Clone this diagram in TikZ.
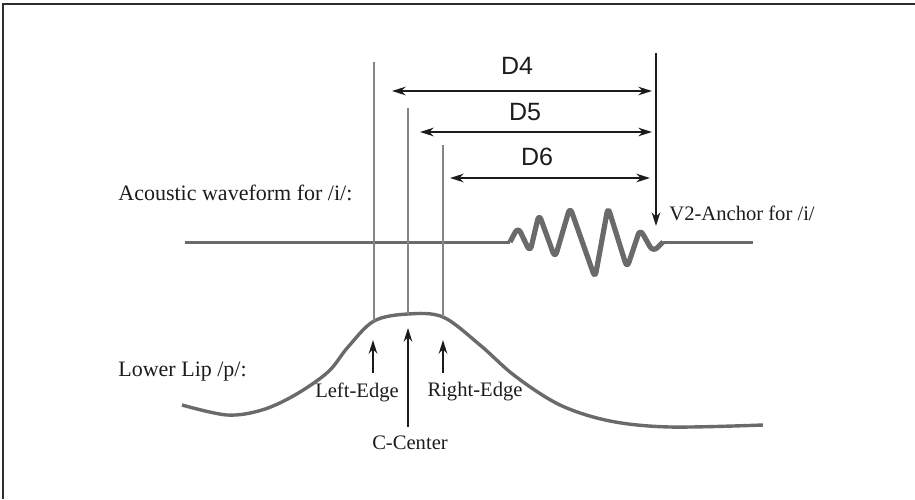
\documentclass[tikz,border=0pt]{standalone}
\usepackage{fontspec}
\setmainfont{Liberation Serif}
\newfontfamily\dimsans{Liberation Sans}
\usetikzlibrary{arrows.meta, positioning}
\definecolor{frameBd}{HTML}{2E2E2E}
\definecolor{waveClr}{HTML}{6A6A6A}
\definecolor{guideClr}{HTML}{858585}
\definecolor{inkClr}{HTML}{1C1C1C}
\newcommand{\tl}{\fontsize{11}{13}\selectfont}
\newcommand{\ml}{\fontsize{10.3}{12}\selectfont}
\newcommand{\dl}{\dimsans\fontsize{12.5}{14}\selectfont}

\begin{document}
\begin{tikzpicture}[
  x=0.5pt, y=-0.5pt,
  >={Stealth[length=2.4mm, width=1.5mm]},
  guide/.style={draw=guideClr, line width=0.8pt},
  span/.style={<->, draw=inkClr, line width=1.1pt},
  pointer/.style={->, draw=inkClr, line width=1.1pt},
  wave/.style={draw=waveClr, line width=1.5pt},
  burst/.style={draw=waveClr, line width=2.6pt, rounded corners=3pt, line join=round},
  lip/.style={draw=waveClr, line width=1.7pt},
  txt/.style={inner sep=0pt, text=inkClr},
]
\useasboundingbox (0,0) rectangle (915,499);

% ---------- frame ----------
\draw[frameBd, line width=1pt] (2.5,499) -- (2.5,3.5) -- (915,3.5);

% ---------- row titles ----------
\node[txt, anchor=west, font=\tl] (acoustic) at (118,193) {Acoustic waveform for /i/:};
\node[txt, anchor=west, font=\tl] (lowerlip) at (118,372) {Lower Lip /p/:};

% ---------- acoustic waveform ----------
\coordinate (waveL) at (185,242);
\coordinate (burstL) at (510,242);
\coordinate (burstR) at (663,242);
\coordinate (waveR) at (753,242);
\draw[wave] (waveL) -- (burstL);
\draw[wave] (burstR) -- (waveR);
\draw[burst] (burstL) -- (518,227) -- (530,252) -- (539,214) -- (555,258)
  -- (570,207) -- (595,278) -- (608,207) -- (627,268) -- (640,229)
  -- (653,252) -- (burstR);

% ---------- lower lip trajectory ----------
\coordinate (leFoot) at (374,321);
\coordinate (ccFoot) at (408,314);
\coordinate (reFoot) at (443,317);
\draw[lip] plot[smooth, tension=0.55] coordinates {
  (182,405) (227,415) (262,410) (295,395) (328,372) (348,347) (leFoot) (ccFoot)
  (reFoot) (480,345) (515,376) (560,405) (610,421) (670,427) (763,425)};

% ---------- landmark guides ----------
\coordinate (leTop) at (374,62);
\coordinate (ccTop) at (408,108);
\coordinate (reTop) at (443,145);
\draw[guide] (leTop) -- (leFoot);
\draw[guide] (ccTop) -- (ccFoot);
\draw[guide] (reTop) -- (reFoot);

% ---------- V2 anchor ----------
\coordinate (v2Top) at (656,53);
\coordinate (v2Tip) at (656,226);
\draw[pointer] (v2Top) -- (v2Tip);
\node[txt, anchor=west, font=\ml] (anchorlab) at (669,213) {V2-Anchor for /i/};

% ---------- interval spans ----------
\coordinate (d4L) at (392,91);  \coordinate (d4R) at (652,91);
\coordinate (d5L) at (420,132); \coordinate (d5R) at (652,132);
\coordinate (d6L) at (450,178); \coordinate (d6R) at (650,178);
\draw[span] (d4L) -- (d4R);
\draw[span] (d5L) -- (d5R);
\draw[span] (d6L) -- (d6R);
\node[txt, font=\dl] (d4) at (517,66) {D4};
\node[txt, font=\dl] (d5) at (525,112) {D5};
\node[txt, font=\dl] (d6) at (537,157) {D6};

% ---------- landmark pointers ----------
\coordinate (leTip) at (373,340);  \coordinate (leTail) at (373,373);
\coordinate (ccTip) at (408,328);  \coordinate (ccTail) at (408,427);
\coordinate (reTip) at (443,340);  \coordinate (reTail) at (443,373);
\draw[pointer] (leTail) -- (leTip);
\draw[pointer] (ccTail) -- (ccTip);
\draw[pointer] (reTail) -- (reTip);
\node[txt, font=\ml] (leftedge) at (357,392) {Left-Edge};
\node[txt, font=\ml] (center) at (410,443) {C-Center};
\node[txt, font=\ml] (rightedge) at (475,392) {Right-Edge};

\end{tikzpicture}
\end{document}
